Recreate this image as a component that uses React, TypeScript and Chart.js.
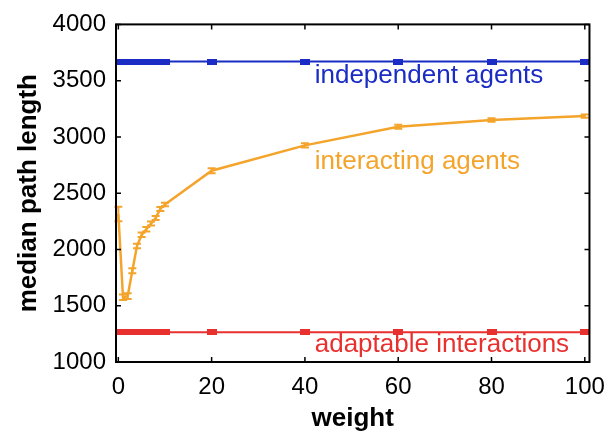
import React, { useEffect, useRef } from "react";
import { Chart, registerables } from "chart.js";

Chart.register(...registerables);

// ---- data ----
const weights = [0, 1, 2, 3, 4, 5, 6, 7, 8, 9, 10, 20, 40, 60, 80, 100];
const independentAgents = [3670, 3670, 3670, 3670, 3670, 3670, 3670, 3670, 3670, 3670, 3670, 3670, 3670, 3670, 3670, 3670];
const adaptableInteractions = [1265, 1265, 1265, 1265, 1265, 1265, 1265, 1265, 1265, 1265, 1265, 1265, 1265, 1265, 1265, 1265];
const interactingAgents = [2315, 1575, 1585, 1810, 2030, 2130, 2180, 2230, 2280, 2360, 2400, 2700, 2925, 3090, 3150, 3185];
const interactingErr = [65, 25, 25, 22, 20, 20, 20, 18, 18, 18, 15, 22, 18, 18, 15, 15];

const xTicks = [0, 20, 40, 60, 80, 100];
const yTicks = [1000, 1500, 2000, 2500, 3000, 3500, 4000];

const labelTexts = ["independent agents", "interacting agents", "adaptable interactions"];
const labelX = [42.1, 42.1, 42.1];
const labelY = [3478, 2718, 1090];

const BLUE = "#1a2cc4";
const ORANGE = "#f4a42b";
const RED = "#e8312f";
const labelColors = [BLUE, ORANGE, RED];

const FONT = "'Liberation Sans', Arial, Helvetica, sans-serif";

function rectMarker(color: string, w: number, h: number) {
  const c = document.createElement("canvas");
  c.width = w;
  c.height = h;
  const ctx = c.getContext("2d")!;
  ctx.fillStyle = color;
  ctx.fillRect(0, 0, w, h);
  return c;
}

const errorBarPlugin = {
  id: "errorBars",
  afterDatasetsDraw(chart: any) {
    const ctx = chart.ctx;
    const xs = chart.scales.x;
    const ys = chart.scales.y;
    ctx.save();
    ctx.strokeStyle = ORANGE;
    ctx.lineWidth = 2;
    ctx.beginPath();
    for (let i = 0; i < weights.length; i++) {
      const px = xs.getPixelForValue(weights[i]);
      const t = ys.getPixelForValue(interactingAgents[i] + interactingErr[i]);
      const b = ys.getPixelForValue(interactingAgents[i] - interactingErr[i]);
      ctx.moveTo(px, t);
      ctx.lineTo(px, b);
      ctx.moveTo(px - 4, t);
      ctx.lineTo(px + 4, t);
      ctx.moveTo(px - 4, b);
      ctx.lineTo(px + 4, b);
    }
    ctx.stroke();
    ctx.restore();
  },
};

const framePlugin = {
  id: "frameAndLabels",
  afterDraw(chart: any) {
    const ctx = chart.ctx;
    const a = chart.chartArea;
    const xs = chart.scales.x;
    const ys = chart.scales.y;
    ctx.save();
    ctx.strokeStyle = "#000000";
    ctx.lineWidth = 2;
    ctx.strokeRect(a.left, a.top, a.right - a.left, a.bottom - a.top);
    ctx.lineWidth = 1.5;
    ctx.beginPath();
    for (const v of xTicks) {
      const px = xs.getPixelForValue(v);
      ctx.moveTo(px, a.bottom);
      ctx.lineTo(px, a.bottom - 5);
      ctx.moveTo(px, a.top);
      ctx.lineTo(px, a.top + 5);
    }
    for (const v of yTicks) {
      const py = ys.getPixelForValue(v);
      ctx.moveTo(a.left, py);
      ctx.lineTo(a.left + 5, py);
      ctx.moveTo(a.right, py);
      ctx.lineTo(a.right - 5, py);
    }
    ctx.stroke();

    ctx.font = `26px ${FONT}`;
    ctx.textAlign = "left";
    ctx.textBaseline = "alphabetic";
    for (let i = 0; i < labelTexts.length; i++) {
      ctx.fillStyle = labelColors[i];
      ctx.fillText(labelTexts[i], xs.getPixelForValue(labelX[i]), ys.getPixelForValue(labelY[i]));
    }
    ctx.restore();
  },
};

export default function App() {
  const ref = useRef<HTMLCanvasElement | null>(null);
  useEffect(() => {
    if (!ref.current) return;
    const chart = new Chart(ref.current, {
      type: "line",
      data: {
        datasets: [
          {
            label: "independent agents",
            data: weights.map((w, i) => ({ x: w, y: independentAgents[i] })),
            borderColor: BLUE,
            borderWidth: 2,
            pointStyle: rectMarker(BLUE, 10, 6) as any,
            pointRadius: 5,
          },
          {
            label: "adaptable interactions",
            data: weights.map((w, i) => ({ x: w, y: adaptableInteractions[i] })),
            borderColor: RED,
            borderWidth: 2,
            pointStyle: rectMarker(RED, 10, 6) as any,
            pointRadius: 5,
          },
          {
            label: "interacting agents",
            data: weights.map((w, i) => ({ x: w, y: interactingAgents[i] })),
            borderColor: ORANGE,
            borderWidth: 2.5,
            pointRadius: 0,
          },
        ],
      },
      options: {
        responsive: false,
        animation: false,
        layout: { padding: { top: 20, right: 18, left: 0, bottom: 0 } },
        plugins: { legend: { display: false }, tooltip: { enabled: false } },
        scales: {
          x: {
            type: "linear",
            min: -0.5,
            max: 101,
            grid: { display: false, drawTicks: false, tickLength: 0 },
            border: { display: false },
            afterBuildTicks: (s: any) => {
              s.ticks = xTicks.map((v) => ({ value: v }));
            },
            afterFit: (s: any) => {
              s.height = 72;
            },
            ticks: {
              color: "#000",
              font: { size: 24, family: FONT },
              padding: 11,
              maxRotation: 0,
              callback: (v: any) => String(v),
            },
            title: {
              display: true,
              text: "weight",
              color: "#000",
              font: { size: 26, weight: "bold", family: FONT },
              padding: { top: 0, bottom: 0 },
            },
          },
          y: {
            type: "linear",
            min: 1000,
            max: 4000,
            grid: { display: false, drawTicks: false, tickLength: 0 },
            border: { display: false },
            afterBuildTicks: (s: any) => {
              s.ticks = yTicks.map((v) => ({ value: v }));
            },
            afterFit: (s: any) => {
              s.width = 116;
            },
            ticks: {
              color: "#000",
              font: { size: 24, family: FONT },
              padding: 10,
              callback: (v: any) => String(v),
            },
            title: {
              display: true,
              text: "median path length",
              color: "#000",
              font: { size: 26, weight: "bold", family: FONT },
              padding: { top: 13, bottom: 0 },
            },
          },
        },
      },
      plugins: [errorBarPlugin, framePlugin],
    });
    return () => chart.destroy();
  }, []);
  return (
    <canvas
      ref={ref}
      width={616}
      height={434}
      style={{ position: "fixed", left: 0, top: 0, width: 616, height: 434, display: "block", background: "#fff" }}
    />
  );
}
